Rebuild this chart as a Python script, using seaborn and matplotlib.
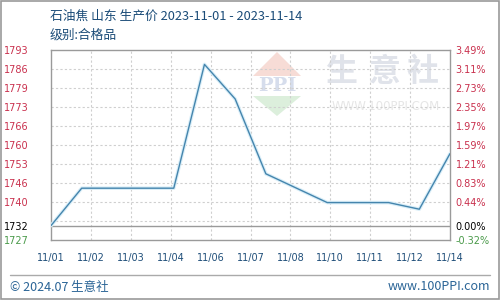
import numpy as np
import pandas as pd
import matplotlib
matplotlib.use("Agg")
import matplotlib.pyplot as plt
import seaborn as sns
from matplotlib.patches import Polygon, Rectangle
from matplotlib.lines import Line2D

# ---- data ----
days = [0, 1, 4, 5, 6, 7, 9, 11, 12, 13]
prices = [1732, 1745, 1745, 1788, 1776, 1750, 1740, 1740, 1737.7, 1757]
xlabels = ["11/01", "11/02", "11/03", "11/04", "11/06", "11/07",
           "11/08", "11/10", "11/11", "11/12", "11/14"]
left_labels = ["1727", "1732", "1740", "1746", "1753", "1760",
               "1766", "1773", "1779", "1786", "1793"]
right_labels = ["-0.32%", "0.00%", "0.44%", "0.83%", "1.21%", "1.59%",
                "1.97%", "2.35%", "2.73%", "3.11%", "3.49%"]
base_price = 1732
ymin, ymax = 1727, 1793

df = pd.DataFrame({"day": days, "price": prices})

sns.set_style("white")
plt.rcParams['font.family'] = ['DejaVu Sans', 'Noto Sans CJK SC']
CJK = ['Noto Sans CJK SC', 'DejaVu Sans']

fig = plt.figure(figsize=(5, 3), dpi=100)
ax = fig.add_axes([0.102, 0.2, 0.798, 0.6333])

step = (ymax - ymin) / 10
xt = np.linspace(0, 13, 11)
grid_c = "#cfcfcf"
for k in range(1, 10):
    ax.axhline(ymin + step * k, color=grid_c, lw=0.8, ls=(0, (2, 2)), zorder=1)
    ax.axvline(xt[k], color=grid_c, lw=0.8, ls=(0, (2, 2)), zorder=1)
ax.axhline(base_price, color="#9a9a9a", lw=1.0, zorder=2)

# watermark
ax_w = fig.add_axes([0, 0, 1, 1], zorder=0)
ax_w.set_xlim(0, 500); ax_w.set_ylim(300, 0); ax_w.axis("off")
ax_w.add_patch(Polygon([[253, 76], [277, 52], [301, 76]], closed=True, color="#f7dcd6", lw=0))
ax_w.add_patch(Polygon([[253, 96], [277, 116], [301, 96]], closed=True, color="#dcefdc", lw=0))
ax_w.text(277, 86, "PPI", ha="center", va="center", fontsize=14, color="#d6ddec",
          fontweight="bold", family="DejaVu Serif")
for cx, ch in zip([341, 385, 423], ["生", "意", "社"]):
    ax_w.text(cx, 72, ch, ha="center", va="center", fontsize=23, color="#e0e3ea",
              family=CJK, fontweight="bold")
ax_w.text(386, 107, "WWW.100PPI.COM", ha="center", va="center", fontsize=8.5,
          color="#e6e6e6")
ax.patch.set_alpha(0)
ax.set_zorder(2)

sns.lineplot(data=df, x="day", y="price", ax=ax, color="#d9eef8", lw=2.6, zorder=3)
sns.lineplot(data=df, x="day", y="price", ax=ax, color="#4585ad", lw=1.0, zorder=4)

ax.set_xlim(0, 13)
ax.set_ylim(ymin, ymax)
ax.set_xlabel(""); ax.set_ylabel("")
ax.set_xticks(xt)
ax.set_xticklabels(xlabels, fontsize=7, color="#1f4e79")
yt = [ymin, base_price] + [ymin + step * k for k in range(2, 11)]
ax.set_yticks(yt)
ax.set_yticklabels(left_labels, fontsize=7)
ax.tick_params(axis="y", length=0, pad=16)
ax.tick_params(axis="x", length=0, pad=9)
red, green = "#c9304d", "#4a9a4a"
for i, lab in enumerate(ax.get_yticklabels()):
    lab.set_color(green if i == 0 else ("black" if i == 1 else red))
for s in ax.spines.values():
    s.set_color("#9a9a9a"); s.set_linewidth(1.0)

ax2 = ax.twinx()
ax2.set_ylim(ymin, ymax)
ax2.set_yticks(yt)
ax2.set_yticklabels(right_labels, fontsize=7)
ax2.tick_params(axis="y", length=0, pad=4)
for i, lab in enumerate(ax2.get_yticklabels()):
    lab.set_color(green if i == 0 else ("black" if i == 1 else red))
for s in ax2.spines.values():
    s.set_visible(False)

title_c = "#1b4c78"
fig.text(50 / 500, 1 - 16 / 300, "石油焦 山东 生产价 2023-11-01 - 2023-11-14",
         ha="left", va="center", fontsize=9.2, color=title_c, family=CJK)
fig.text(50 / 500, 1 - 35 / 300, "级别:合格品", ha="left", va="center",
         fontsize=9.2, color=title_c, family=CJK)

fig.add_artist(Line2D([10 / 500, 490 / 500], [1 - 275 / 300, 1 - 275 / 300],
                      color="#aaaaaa", lw=1.0))
fig.text(10 / 500, 1 - 287 / 300, "© 2024.07 生意社", ha="left", va="center",
         fontsize=9, color="#2a6496", family=CJK)
fig.text(490 / 500, 1 - 287 / 300, "www.100PPI.com", ha="right", va="center",
         fontsize=9, color="#2a6496", family=CJK)
fig.add_artist(Rectangle((0.001, 0.002), 0.997, 0.995, transform=fig.transFigure,
                         fill=False, edgecolor="#999999", lw=1.2))

fig.savefig("out.png", dpi=100)
